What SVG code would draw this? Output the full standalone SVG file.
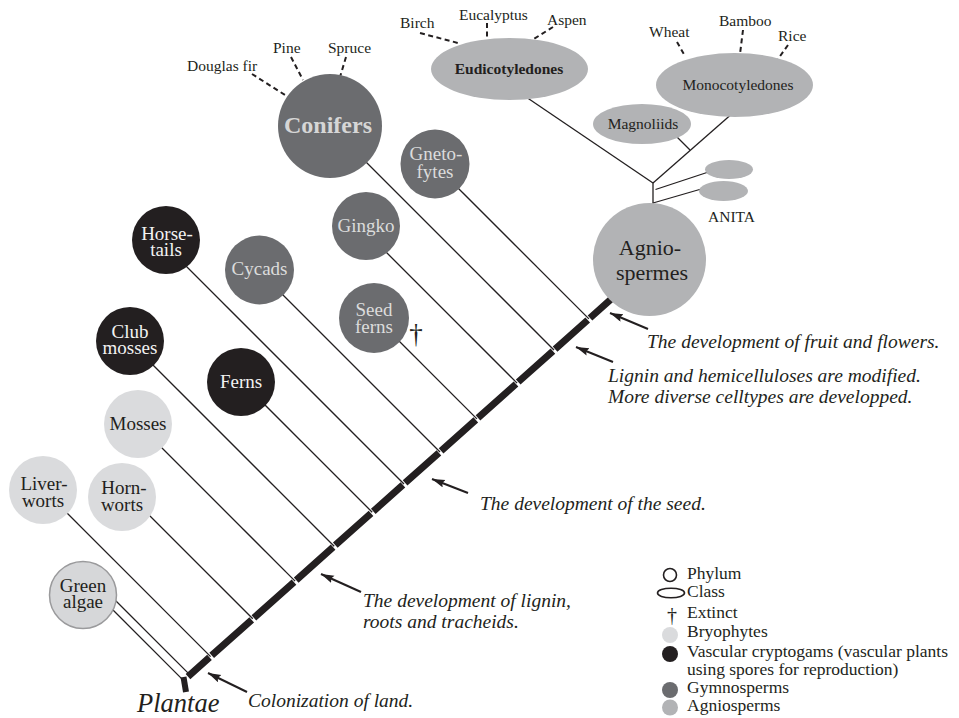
<svg xmlns="http://www.w3.org/2000/svg" width="959" height="718" viewBox="0 0 959 718" font-family="'Liberation Serif', 'Times New Roman', serif">
<defs>
<marker id="ah" markerUnits="userSpaceOnUse" markerWidth="14" markerHeight="10" refX="13" refY="4" orient="auto">
<path d="M0,0 L13,4 L0,8 L2,4 z" fill="#231f20"/>
</marker>
<style>
text{font-family:"Liberation Serif","Times New Roman",serif;fill:#231f20}
.nl{font-size:19px;text-anchor:middle}
.sm{font-size:15.5px}
.ann{font-size:19.5px;font-style:italic}
.lg{font-size:17.5px}
.dg{text-anchor:middle}
.bryo{fill:#dadbdd}
.vasc{fill:#231f20}
.gymn{fill:#6b6c6f}
.angio{fill:#b2b3b5}
.lt{fill:#f2f2f2}
.gl{fill:#dcdcdc}
.thin{stroke:#231f20;stroke-width:1.3;fill:none}
.dash{stroke:#231f20;stroke-width:2;stroke-dasharray:5 3.5;fill:none}
.arr{stroke:#231f20;stroke-width:2;fill:none;marker-end:url(#ah)}
</style>
</defs>
<rect width="959" height="718" fill="#ffffff"/>

<g id="connectors">
<path d="M188,676.6 L209.5,657.4 M211.7,655.4 L251.7,619.8 M253.9,617.8 L294.0,582.1 M296.2,580.1 L333.1,547.2 M335.3,545.2 L371.0,513.3 M373.3,511.3 L402.9,484.9 M405.1,482.9 L438.9,452.8 M441.1,450.8 L475.8,419.8 M478.0,417.8 L516.0,384.0 M518.2,382.0 L552.9,351.1 M555.1,349.1 L587.7,320.0 M590.0,318.0 L622,289.4" stroke="#231f20" stroke-width="7" fill="none"/>
<line x1="183.5" y1="677" x2="186" y2="692" stroke="#231f20" stroke-width="6"/>
<line class="thin" x1="100" y1="585" x2="189.9" y2="674.9"/>
<line class="thin" x1="100" y1="597" x2="183.6" y2="680.6"/>
<line class="thin" x1="43" y1="489" x2="210.6" y2="656.6"/>
<line class="thin" x1="122" y1="488" x2="252.8" y2="618.8"/>
<line class="thin" x1="138" y1="424" x2="295.1" y2="581.1"/>
<line class="thin" x1="130" y1="342" x2="334.2" y2="546.2"/>
<line class="thin" x1="241" y1="381" x2="372.2" y2="512.2"/>
<line class="thin" x1="166" y1="246" x2="404.0" y2="484.0"/>
<line class="thin" x1="259" y1="271" x2="440.0" y2="452.0"/>
<line class="thin" x1="374" y1="316" x2="476.9" y2="418.9"/>
<line class="thin" x1="366" y1="232" x2="517.1" y2="383.1"/>
<line class="thin" x1="330" y1="126" x2="554.0" y2="350.0"/>
<line class="thin" x1="435" y1="165" x2="588.9" y2="318.9"/>
<line class="thin" x1="515" y1="89.5" x2="653" y2="183"/>
<line class="thin" x1="734" y1="112" x2="653" y2="183"/>
<line class="thin" x1="670" y1="130" x2="690" y2="150"/>
<line class="thin" x1="653" y1="183" x2="653" y2="204"/>
<line class="thin" x1="655.5" y1="189.5" x2="710" y2="171.5"/>
<line class="thin" x1="653" y1="203" x2="703" y2="188.5"/>
<line class="dash" x1="252" y1="74" x2="285" y2="95"/>
<line class="dash" x1="291" y1="57" x2="303" y2="80"/>
<line class="dash" x1="346" y1="57" x2="340" y2="77"/>
<line class="dash" x1="420" y1="33" x2="458" y2="43"/>
<line class="dash" x1="487" y1="23" x2="487" y2="39"/>
<line class="dash" x1="553" y1="27" x2="529" y2="42"/>
<line class="dash" x1="677" y1="42" x2="685" y2="56"/>
<line class="dash" x1="743" y1="30" x2="740" y2="54"/>
<line class="dash" x1="788" y1="45" x2="778" y2="59"/>
<line class="arr" x1="648" y1="329" x2="610" y2="313"/>
<line class="arr" x1="613" y1="362" x2="576" y2="347"/>
<line class="arr" x1="468" y1="493" x2="432" y2="479"/>
<line class="arr" x1="361" y1="592" x2="321" y2="574"/>
<line class="arr" x1="247" y1="692" x2="208" y2="673"/>
</g>

<g id="green-algae"><circle cx="83" cy="595" r="33.5" fill="#d6d7d9" stroke="#9a9a9c" stroke-width="1.5"/><text class="nl" x="83" y="592">Green</text><text class="nl" x="83" y="608">algae</text></g>
<g id="liverworts"><circle class="bryo" cx="43" cy="490" r="34"/><text class="nl" x="44" y="490">Liver-</text><text class="nl" x="43" y="507">worts</text></g>
<g id="hornworts"><circle class="bryo" cx="122" cy="497" r="34"/><text class="nl" x="124" y="494">Horn-</text><text class="nl" x="122" y="511">worts</text></g>
<g id="mosses"><circle class="bryo" cx="138" cy="424" r="34"/><text class="nl" x="138" y="430">Mosses</text></g>
<g id="club-mosses"><circle class="vasc" cx="130" cy="341" r="34"/><text class="nl lt" x="130" y="338">Club</text><text class="nl lt" x="130" y="354">mosses</text></g>
<g id="ferns"><circle class="vasc" cx="241" cy="382" r="34"/><text class="nl lt" x="241" y="388">Ferns</text></g>
<g id="horsetails"><circle class="vasc" cx="166" cy="240" r="34"/><text class="nl lt" x="167" y="240">Horse-</text><text class="nl lt" x="166" y="256">tails</text></g>
<g id="cycads"><circle class="gymn" cx="259.5" cy="270" r="34.5"/><text class="nl gl" x="259.5" y="275">Cycads</text></g>
<g id="seed-ferns"><circle class="gymn" cx="374" cy="318" r="35"/><text class="nl gl" x="374" y="316">Seed</text><text class="nl gl" x="374" y="333">ferns</text><text class="dg" x="416" y="343" style="font-size:27px">†</text></g>
<g id="gingko"><circle class="gymn" cx="366" cy="226" r="34"/><text class="nl gl" x="366" y="232">Gingko</text></g>
<g id="gnetofytes"><circle class="gymn" cx="435" cy="164" r="34.5"/><text class="nl gl" x="436" y="160">Gneto-</text><text class="nl gl" x="435" y="178">fytes</text></g>
<g id="conifers"><circle class="gymn" cx="330" cy="126" r="52"/><text x="328" y="133" style="font-size:24px;font-weight:bold;text-anchor:middle;fill:#d6d6d6">Conifers</text>
<text class="sm" x="187" y="71">Douglas fir</text><text class="sm" x="273" y="53">Pine</text><text class="sm" x="328" y="53">Spruce</text></g>
<g id="angiospermes"><circle class="angio" cx="649.5" cy="259.5" r="56.5"/><text x="650" y="255" style="font-size:22px;text-anchor:middle">Agnio-</text><text x="652" y="280" style="font-size:22px;text-anchor:middle">spermes</text></g>
<g id="eudicotyledones"><ellipse class="angio" cx="509.5" cy="69" rx="78.5" ry="31"/><text class="sm" x="509" y="74" style="font-weight:bold;text-anchor:middle">Eudicotyledones</text>
<text class="sm" x="400" y="28">Birch</text><text class="sm" x="459" y="20">Eucalyptus</text><text class="sm" x="547" y="25">Aspen</text></g>
<g id="monocotyledones"><ellipse class="angio" cx="734.5" cy="85" rx="78.5" ry="32"/><text class="sm" x="738" y="90" style="text-anchor:middle">Monocotyledones</text>
<text class="sm" x="649" y="37">Wheat</text><text class="sm" x="719" y="26">Bamboo</text><text class="sm" x="778" y="41">Rice</text></g>
<g id="magnoliids"><ellipse class="angio" cx="642" cy="124" rx="49" ry="20"/><text class="sm" x="643" y="129" style="text-anchor:middle">Magnoliids</text></g>
<g id="anita"><ellipse class="angio" cx="729" cy="169.5" rx="24" ry="9.5"/><ellipse class="angio" cx="723.5" cy="191" rx="24.5" ry="10"/><text class="sm" x="708" y="222">ANITA</text></g>

<g id="annotations">
<text class="ann" x="647" y="348">The development of fruit and flowers.</text>
<text class="ann" x="608" y="382">Lignin and hemicelluloses are modified.</text>
<text class="ann" x="608" y="403">More diverse celltypes are developped.</text>
<text class="ann" x="480" y="510">The development of the seed.</text>
<text class="ann" x="363" y="607">The development of lignin,</text>
<text class="ann" x="363" y="628">roots and tracheids.</text>
<text class="ann" x="248" y="707">Colonization of land.</text>
<text x="137" y="712" style="font-size:26.5px;font-style:italic">Plantae</text>
</g>

<g id="legend">
<circle cx="670" cy="575" r="6.5" fill="none" stroke="#231f20" stroke-width="1.6"/>
<ellipse cx="671" cy="593" rx="13.5" ry="4.8" fill="none" stroke="#231f20" stroke-width="1.6"/>
<text class="dg" x="672" y="622" style="font-size:20px">†</text>
<circle class="bryo" cx="670" cy="635" r="8"/>
<circle class="vasc" cx="670" cy="654" r="8"/>
<circle class="gymn" cx="670" cy="690" r="8"/>
<circle class="angio" cx="670" cy="707.5" r="8"/>
<text class="lg" x="687" y="579">Phylum</text>
<text class="lg" x="687" y="597">Class</text>
<text class="lg" x="687" y="618">Extinct</text>
<text class="lg" x="687" y="637">Bryophytes</text>
<text class="lg" x="687" y="657">Vascular cryptogams (vascular plants</text>
<text class="lg" x="687" y="675">using spores for reproduction)</text>
<text class="lg" x="687" y="693">Gymnosperms</text>
<text class="lg" x="687" y="711">Agniosperms</text>
</g>
</svg>
